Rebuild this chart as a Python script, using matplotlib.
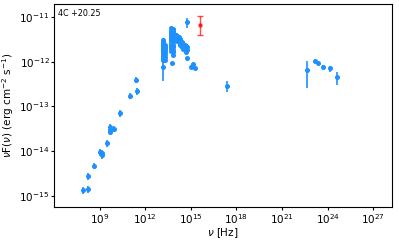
import numpy as np
import matplotlib
matplotlib.use('Agg')
import matplotlib.pyplot as plt

# Source name
source = '4C +20.25'

# Radio points
radio_nu = [7.6e7, 1.6e8, 1.6e8, 3.9e8, 1.0e9, 1.45e9, 1.45e9, 3.1e9,
            4.6e9, 4.6e9, 4.6e9, 8.3e9, 2.3e10, 9.3e10, 2.9e11, 2.3e11]
radio_flux = [1.35e-15, 1.4e-15, 2.8e-15, 4.7e-15, 9.5e-15, 8.9e-15, 8.1e-15, 1.5e-14,
              3.5e-14, 3.0e-14, 2.7e-14, 3.2e-14, 7.1e-14, 1.74e-13, 2.2e-13, 3.9e-13]
radio_err = [0.25e-15, 0.25e-15, 0.5e-15, 0.8e-15, 1.6e-15, 1.5e-15, 1.4e-15, 2.5e-15,
             6e-15, 5e-15, 4.5e-15, 5e-15, 1.2e-14, 2.8e-14, 3.5e-14, 6e-14]

# Infrared (multi-epoch)
ir_nu = [1.35e13] * 13 + [2.1e13] * 7 + [5.0e13] * 11 + [6.8e13] * 11
ir_flux = [3.1e-12, 2.8e-12, 2.6e-12, 2.35e-12, 2.15e-12, 1.95e-12, 1.78e-12,
           1.62e-12, 1.48e-12, 1.35e-12, 1.23e-12, 1.12e-12, 7.8e-13,
           2.35e-12, 2.1e-12, 1.9e-12, 1.7e-12, 1.5e-12, 1.3e-12, 1.1e-12,
           5.6e-12, 5.0e-12, 4.5e-12, 4.0e-12, 3.6e-12, 3.2e-12, 2.85e-12,
           2.55e-12, 2.25e-12, 2.0e-12, 1.75e-12,
           5.4e-12, 4.8e-12, 4.3e-12, 3.8e-12, 3.4e-12, 3.0e-12, 2.7e-12,
           2.4e-12, 2.1e-12, 1.85e-12, 1.66e-12]
ir_err = [3e-13, 3e-13, 2.5e-13, 2.5e-13, 2e-13, 2e-13, 2e-13,
          1.8e-13, 1.6e-13, 1.5e-13, 1.4e-13, 1.3e-13, 4e-13,
          2e-13, 2e-13, 1.8e-13, 1.6e-13, 1.4e-13, 1.2e-13, 1.1e-13,
          5e-13, 4.5e-13, 4e-13, 3.5e-13, 3e-13, 3e-13, 2.5e-13,
          2.5e-13, 2e-13, 2e-13, 1.8e-13,
          5e-13, 4.5e-13, 4e-13, 3.5e-13, 3e-13, 3e-13, 2.5e-13,
          2.5e-13, 2e-13, 2e-13, 1.8e-13]

# Near-IR / optical / UV
opt_nu = [8.5e13] * 3 + [1.05e14] * 3 + [1.3e14] * 3 + [1.6e14] * 3 + [2.0e14] * 3
opt_nu += [2.5e14] * 3 + [3.2e14] * 3 + [4.0e14] * 3 + [5.0e14] * 3 + [5.9e14] * 2
opt_nu += [5.2e14, 6.0e13, 6.8e13, 5.9e14, 9.8e14, 1.45e15, 1.9e15]
opt_flux = [4.0e-12, 3.5e-12, 3.0e-12,
            4.0e-12, 3.5e-12, 3.0e-12,
            3.8e-12, 3.3e-12, 2.9e-12,
            3.55e-12, 3.1e-12, 2.7e-12,
            3.15e-12, 2.75e-12, 2.4e-12,
            2.8e-12, 2.45e-12, 2.1e-12,
            2.5e-12, 2.2e-12, 1.9e-12,
            2.35e-12, 2.05e-12, 1.8e-12,
            2.2e-12, 1.9e-12, 1.66e-12,
            2.1e-12, 1.85e-12,
            7.6e-12, 9.3e-13, 1.4e-12, 1.2e-12, 7.8e-13, 8.8e-13, 7.1e-13]
opt_err = [3e-13, 3e-13, 2.5e-13,
           3e-13, 3e-13, 2.5e-13,
           3e-13, 2.5e-13, 2.5e-13,
           2.5e-13, 2.5e-13, 2e-13,
           2.5e-13, 2e-13, 2e-13,
           2e-13, 2e-13, 1.5e-13,
           2e-13, 1.5e-13, 1.5e-13,
           2e-13, 1.5e-13, 1.2e-13,
           1.5e-13, 1.5e-13, 1.2e-13,
           1.5e-13, 1.2e-13,
           1.9e-12, 8e-14, 1e-13, 1e-13, 6e-14, 7e-14, 5e-14]

# X-ray
xray_nu = [2.4e17]
xray_flux = [2.9e-13]
xray_err = [0.8e-13]

# Gamma-ray
gamma_nu = [4.3e22, 1.4e23, 2.3e23, 4.7e23, 1.45e24, 4.4e24]
gamma_flux = [6.6e-13, 1.05e-12, 9.5e-13, 7.8e-13, 7.1e-13, 4.5e-13]
gamma_err = [4.0e-13, 6e-14, 5e-14, 8e-14, 1.1e-13, 1.55e-13]

# Highlighted point
red_nu = [4.2e15]
red_flux = [6.6e-12]
red_err_lo = [2.6e-12]
red_err_hi = [4.1e-12]

plt.rcParams['font.size'] = 7.5

fig = plt.figure(figsize=(3.99, 2.40), dpi=100)
ax = fig.add_axes([0.136, 0.137, 0.846, 0.846])

blue = '#1E90FF'
for nu, flux, err in [(radio_nu, radio_flux, radio_err),
                      (ir_nu, ir_flux, ir_err),
                      (opt_nu, opt_flux, opt_err),
                      (xray_nu, xray_flux, xray_err),
                      (gamma_nu, gamma_flux, gamma_err)]:
    ax.errorbar(nu, flux, yerr=err, fmt='o', color=blue, markersize=2.6,
                elinewidth=1.2, capsize=0)

ax.errorbar(red_nu, red_flux, yerr=[red_err_lo, red_err_hi], fmt='o', color='red',
            alpha=0.7, markersize=2.2, elinewidth=1.0, capsize=2)

ax.set_xscale('log')
ax.set_yscale('log')
ax.set_xlim(1.0e6, 1.7e28)
ax.set_ylim(5.6e-16, 1.95e-11)
ax.set_xticks([1e9, 1e12, 1e15, 1e18, 1e21, 1e24, 1e27])
ax.set_yticks([1e-15, 1e-14, 1e-13, 1e-12, 1e-11])
ax.minorticks_off()
ax.tick_params(direction='out', length=2, width=0.8, labelsize=7.5, pad=1.5)

ax.set_xlabel(r'$\nu$ [Hz]', fontsize=7.5, labelpad=0)
ax.set_ylabel(r'$\nu$F($\nu$) (erg cm$^{-2}$ s$^{-1}$)', fontsize=7.5, labelpad=2)
ax.text(0.012, 0.975, source, transform=ax.transAxes, fontsize=5.8,
        ha='left', va='top')

fig.savefig('out.png', dpi=100)
